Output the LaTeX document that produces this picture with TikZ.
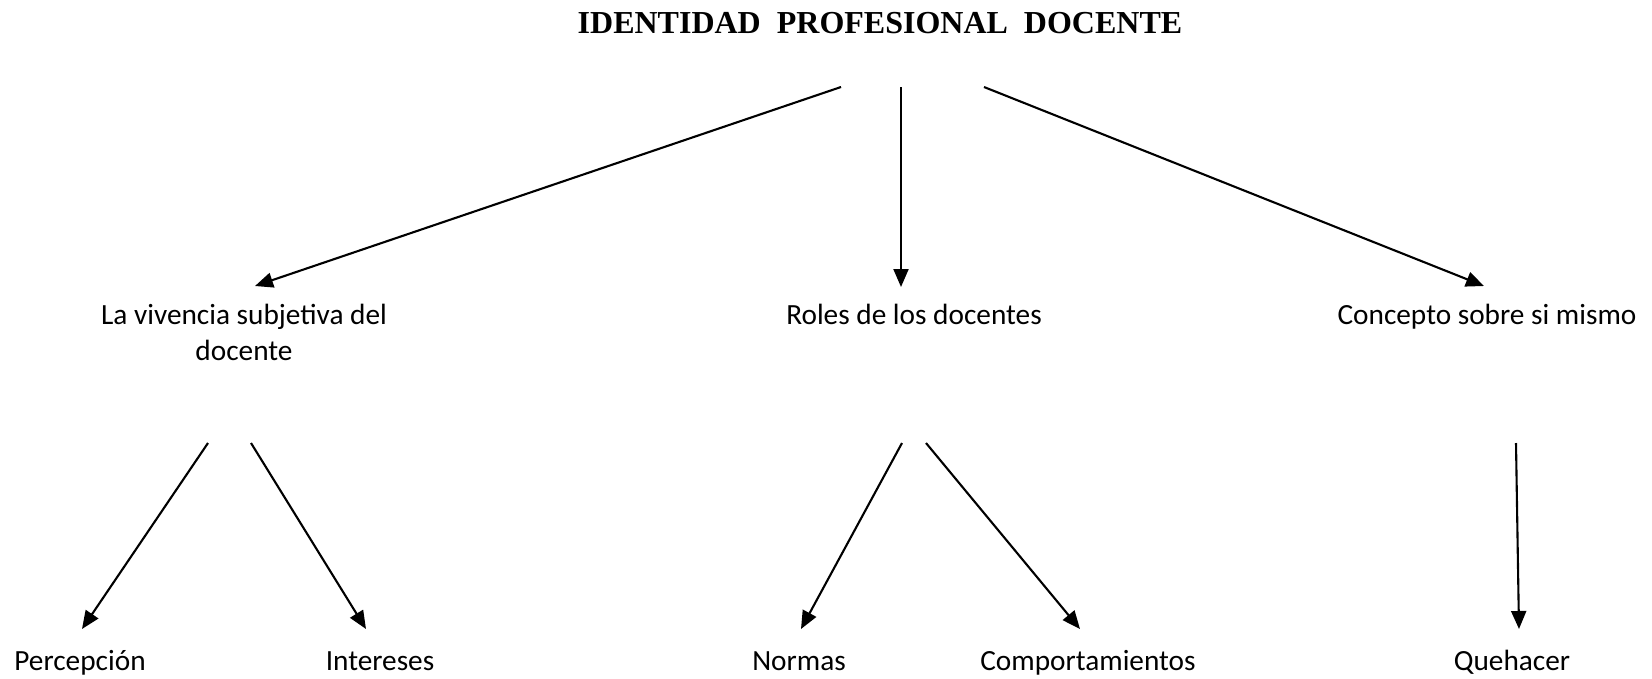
\documentclass[tikz,border=0pt]{standalone}
\usepackage{fontspec}
\setmainfont{Carlito}
\newfontfamily\titlefont{Liberation Serif}
\usepackage{tikz}
\usetikzlibrary{arrows.meta,positioning}

\begin{document}
\begin{tikzpicture}[x=1pt,y=-1pt]
\tikzstyle{titulo}=[inner sep=0pt,anchor=base,font=\titlefont\bfseries\fontsize{32}{36}\selectfont]
\tikzstyle{texto}=[inner sep=0pt,anchor=base,align=center,font=\fontsize{29.3}{36}\selectfont]
\tikzstyle{flecha}=[line width=2.1pt,-{Triangle[length=18pt,width=15pt]}]
\useasboundingbox (0,0) rectangle (1652,678);

\node [titulo] (idp) at (880,33.5) {IDENTIDAD\ \ PROFESIONAL\ \ DOCENTE};

\node [texto] (viv) at (244,360) {La vivencia subjetiva del\\docente};
\node [texto] (rol) at (914,324) {Roles de los docentes};
\node [texto] (con) at (1487,324) {Concepto sobre si mismo};

\node [texto] (per) at (80,670) {Percepción};
\node [texto] (int) at (380,670) {Intereses};
\node [texto] (nor) at (799,670) {Normas};
\node [texto] (com) at (1088,670) {Comportamientos};
\node [texto] (que) at (1512,670) {Quehacer};

\draw [flecha] ([xshift=-39pt,yshift=-53.5pt]idp.base) -- ([xshift=11pt,yshift=74pt]viv.base);
\draw [flecha] ([xshift=21pt,yshift=-53.5pt]idp.base) -- ([xshift=-13pt,yshift=37pt]rol.base);
\draw [flecha] ([xshift=104pt,yshift=-53.5pt]idp.base) -- ([xshift=-3pt,yshift=38pt]con.base);

\draw [flecha] ([xshift=-36pt,yshift=-83pt]viv.base) -- ([xshift=2pt,yshift=41pt]per.base);
\draw [flecha] ([xshift=7pt,yshift=-83pt]viv.base) -- ([xshift=-14pt,yshift=41pt]int.base);
\draw [flecha] ([xshift=-12pt,yshift=-119pt]rol.base) -- ([xshift=2pt,yshift=41pt]nor.base);
\draw [flecha] ([xshift=12pt,yshift=-119pt]rol.base) -- ([xshift=-8pt,yshift=41pt]com.base);
\draw [flecha] ([xshift=29pt,yshift=-119pt]con.base) -- ([xshift=7pt,yshift=41pt]que.base);
\end{tikzpicture}
\end{document}
